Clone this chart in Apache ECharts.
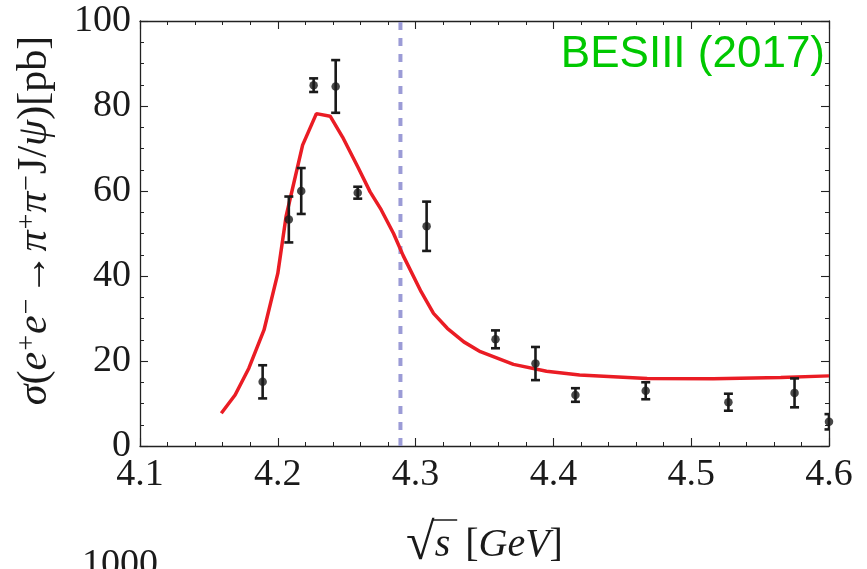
<!DOCTYPE html>
<html>
<head>
<meta charset="utf-8">
<script src="https://cdn.jsdelivr.net/npm/echarts@6/dist/echarts.min.js"></script>
<style>
html,body{margin:0;padding:0;background:#fff;}
#main{width:867px;height:569px;}
</style>
</head>
<body>
<div id="main"></div>
<script>
// BESIII (2017) data points: sqrt(s) [GeV], sigma [pb], error [pb]
var energies = [4.189, 4.208, 4.217, 4.226, 4.242, 4.258, 4.308, 4.358, 4.387, 4.416, 4.467, 4.527, 4.575, 4.600];
var sigma    = [15.1, 53.3, 60.0, 84.9, 84.6, 59.6, 51.7, 25.1, 19.4, 12.0, 13.0, 10.3, 12.5, 5.7];
var errors   = [3.9, 5.4, 5.4, 1.6, 6.2, 1.4, 5.8, 2.1, 3.9, 1.6, 2.0, 2.0, 3.4, 1.8];

// fit curve (red)
var fitX = [4.159, 4.169, 4.179, 4.190, 4.200, 4.206, 4.218, 4.228, 4.238, 4.247, 4.258, 4.267, 4.275, 4.284, 4.291, 4.304, 4.313, 4.323, 4.335, 4.347, 4.371, 4.395, 4.419, 4.468, 4.516, 4.565, 4.600];
var fitY = [7.7, 12.0, 18.3, 27.3, 40.6, 54.0, 70.8, 78.2, 77.6, 72.7, 65.7, 59.8, 55.6, 50.0, 44.8, 36.3, 31.2, 27.7, 24.5, 22.2, 19.2, 17.6, 16.7, 15.9, 15.8, 16.1, 16.5];

// threshold marker
var markX = 4.289;

var xTicks = [4.1, 4.2, 4.3, 4.4, 4.5, 4.6];
var yTicks = [0, 20, 40, 60, 80, 100];

var points = energies.map(function (e, i) { return [e, sigma[i]]; });
var bars = energies.map(function (e, i) { return [e, sigma[i] - errors[i], sigma[i] + errors[i]]; });
var curve = fitX.map(function (x, i) { return [x, fitY[i]]; });

var frame = { show: true, onZero: false, lineStyle: { color: '#222', width: 1.3 } };
var serif = '"Liberation Serif", "Times New Roman", serif';
var gridL = 140, gridR = 38, gridT = 21, gridB = 123;
var xNameGap = 73, xNameSize = 40, rootSize = 52;

function xAxisOf(pos, labels) {
    return {
        type: 'value', position: pos,
        min: xTicks[0], max: xTicks[xTicks.length - 1], interval: 0.1,
        axisLine: frame,
        axisTick: { inside: true, length: 8, lineStyle: { color: '#222', width: 1.1 } },
        minorTick: { show: true, splitNumber: 5, length: 4, lineStyle: { color: '#222', width: 1 } },
        splitLine: { show: false },
        axisLabel: {
            show: labels, fontFamily: serif, fontSize: 38, color: '#1a1a1a', margin: 10,
            formatter: function (v) { return v.toFixed(1); }
        }
    };
}
function yAxisOf(pos, labels) {
    return {
        type: 'value', position: pos,
        min: yTicks[0], max: yTicks[yTicks.length - 1], interval: 20,
        axisLine: frame,
        axisTick: { inside: true, length: 8, lineStyle: { color: '#222', width: 1.1 } },
        minorTick: { show: true, splitNumber: 4, length: 4, lineStyle: { color: '#222', width: 1 } },
        splitLine: { show: false },
        axisLabel: { show: labels, fontFamily: serif, fontSize: 38, color: '#1a1a1a', margin: 9 }
    };
}

var xBottom = xAxisOf('bottom', true);
xBottom.name = '{r|\u221A}{s|s}{n| [}{i|GeV}{n|]}';
xBottom.nameLocation = 'middle';
xBottom.nameGap = xNameGap;
xBottom.nameTextStyle = {
    rich: {
        r: { fontFamily: serif, fontSize: rootSize, color: '#1a1a1a', verticalAlign: 'bottom' },
        s: { fontFamily: serif, fontSize: xNameSize, fontStyle: 'italic', color: '#1a1a1a', padding: [0, 5, 0, 0] },
        n: { fontFamily: serif, fontSize: xNameSize, color: '#1a1a1a' },
        i: { fontFamily: serif, fontSize: xNameSize, fontStyle: 'italic', color: '#1a1a1a' }
    }
};

var yLeft = yAxisOf('left', true);
yLeft.name = '{i|\u03C3}{n|(}{i|e}{s|+}{i|e}{s|\u2212}{a|\u2192}{i|\u03C0}{s|+}{i|\u03C0}{s|\u2212}{n|J/}{i|\u03C8}{n|)[pb]}';
yLeft.nameLocation = 'middle';
yLeft.nameRotate = 90;
yLeft.nameGap = 84;
yLeft.nameTextStyle = {
    padding: [0, 0, 0, 26],
    rich: {
        n: { fontFamily: serif, fontSize: 42, color: '#1a1a1a' },
        i: { fontFamily: serif, fontSize: 42, fontStyle: 'italic', color: '#1a1a1a' },
        a: { fontFamily: serif, fontSize: 42, color: '#1a1a1a', padding: [0, 2, 0, 2] },
        s: { fontFamily: serif, fontSize: 28, color: '#1a1a1a', verticalAlign: 'top', padding: [0, 1, 0, 1] }
    }
};

var chart = echarts.init(document.getElementById('main'));
chart.setOption({
    animation: false,
    backgroundColor: '#fff',
    grid: { left: gridL, right: gridR, top: gridT, bottom: gridB, outerBoundsMode: 'none', containLabel: false },
    xAxis: [xBottom, xAxisOf('top', false)],
    yAxis: [yLeft, yAxisOf('right', false)],
    graphic: [
        {
            type: 'text', right: 42, top: 33,
            style: { text: 'BESIII (2017)', fontSize: 44, fontFamily: '"Liberation Sans", Arial, sans-serif', fill: '#00c800' }
        },
        {
            type: 'text', left: 82, top: 546,
            style: { text: '1000', fontSize: 38, fontFamily: serif, fill: '#1a1a1a' }
        }
    ],
    series: [
        {
            name: 'threshold', type: 'line', data: [[markX, 0], [markX, 100]],
            symbol: 'none', z: 1,
            lineStyle: { color: '#9b9bd6', width: 4, type: [8, 8] }
        },
        {
            name: 'fit', type: 'line', data: curve, symbol: 'none', z: 2,
            lineStyle: { color: '#ea1c24', width: 3.5 }
        },
        {
            name: 'errors', type: 'custom', data: bars, clip: true, z: 3,
            renderItem: function (params, api) {
                var x = api.value(0);
                var lo = api.coord([x, api.value(1)]);
                var hi = api.coord([x, api.value(2)]);
                var w = 4.5;
                var st = { stroke: '#1a1a1a', lineWidth: 2.6 };
                return {
                    type: 'group',
                    children: [
                        { type: 'line', shape: { x1: lo[0], y1: lo[1], x2: hi[0], y2: hi[1] }, style: st },
                        { type: 'line', shape: { x1: lo[0] - w, y1: lo[1], x2: lo[0] + w, y2: lo[1] }, style: st },
                        { type: 'line', shape: { x1: hi[0] - w, y1: hi[1], x2: hi[0] + w, y2: hi[1] }, style: st }
                    ]
                };
            }
        },
        {
            name: 'BESIII', type: 'scatter', data: points, symbol: 'circle', symbolSize: 8.5, z: 4,
            clip: true,
            itemStyle: { color: '#1a1a1a' }
        }
    ]
});

// vinculum over the s in the x-axis name
var ctx = document.createElement('canvas').getContext('2d');
function tw(t, it, size) {
    ctx.font = (it ? 'italic ' : '') + (size || xNameSize) + 'px ' + serif;
    return ctx.measureText(t).width;
}
var wRoot = tw('\u221A', false, rootSize), wS = tw('s', true) + 5;
var total = wRoot + wS + tw(' [') + tw('GeV', true) + tw(']');
var cx = gridL + (867 - gridL - gridR) / 2;
var left = cx - total / 2;
var yTop = 569 - gridB + xNameGap + 1;
chart.setOption({
    graphic: [{}, {}, {
        type: 'line', silent: true,
        shape: { x1: left + wRoot - 2, y1: yTop, x2: left + wRoot + wS + 2, y2: yTop },
        style: { stroke: '#1a1a1a', lineWidth: 1.5 }
    }]
});
</script>
</body>
</html>
